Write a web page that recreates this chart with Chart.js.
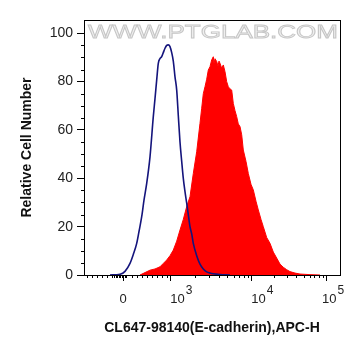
<!DOCTYPE html>
<html>
<head>
<meta charset="utf-8">
<script src="https://cdn.jsdelivr.net/npm/chart.js@4/dist/chart.umd.min.js"></script>
<style>
  html, body { margin: 0; padding: 0; background: #fff; }
</style>
</head>
<body>
<canvas id="histChart" width="361" height="356"></canvas>
<script>
// Isotype control (blue outline), channel units across the plot
const blueX = [26, 36, 41, 46, 49.3, 52.7, 55, 57.7, 60, 62.7, 66, 69.3, 71, 72.7, 74.3, 76, 77.7, 79.3, 81, 82.7, 84.3, 86, 87.7, 89.3, 91, 92.7, 94.3, 96, 97.7, 99.3, 101, 102.7, 104.3, 106, 107.7, 109.3, 112.7, 116, 119.3, 122.7, 126, 129.3, 136, 146];
const blueY = [0, 0.3, 1.5, 4.8, 8.5, 13.1, 18, 24.1, 31, 37.9, 48.9, 65.5, 73, 80.7, 87.6, 89.5, 90.3, 92, 93.8, 95, 95.2, 94.5, 92, 88.5, 82, 76.5, 66, 55, 47, 40, 34.5, 29.7, 25, 20, 17, 13.1, 8, 4.5, 2.5, 1.3, 0.8, 0.5, 0.2, 0];

// E-cadherin stained (red filled)
const redX = [56, 61, 66, 71, 76, 79.3, 82.7, 86, 89.3, 92.7, 96, 99.3, 102.7, 106, 109.3, 112.7, 116, 117.7, 119.3, 121, 122.7, 124.3, 126, 127.7, 129.3, 130, 131, 132.7, 134, 135, 136, 137.7, 139.3, 141, 142.7, 144.3, 146, 147.7, 149.3, 151, 152.7, 154.3, 156, 157.7, 159.3, 162, 164.3, 167, 169.3, 172, 174.3, 177, 179.3, 182.7, 186, 189.3, 192.7, 196, 199.3, 202.7, 206, 211, 216, 226, 236];
const redY = [0, 1, 2, 2.5, 3.4, 4.8, 6.2, 8, 10.3, 14, 18.6, 23, 28.3, 32.4, 42, 51, 62.8, 69, 75, 77.9, 81, 84.8, 86.2, 89, 90.3, 87.5, 89.5, 88.3, 86.5, 88.5, 87.6, 85.5, 86.9, 84.1, 80, 77.9, 77, 76.5, 71, 68, 65.5, 62.5, 61.4, 58, 51.7, 47, 42, 37.5, 35.2, 30.5, 26.9, 23, 20, 15.5, 13.1, 9.5, 7, 4.5, 3.2, 2.2, 1.4, 0.8, 0.4, 0.15, 0];

// axis ticks
const xTickPos = [39, 86.7, 167.7, 242];
const xTickBase = ["0", "10", "10", "10"];
const xTickExp = ["", "3", "4", "5"];
const yTicks = [0, 20, 40, 60, 80, 100];

const FONT = '"Liberation Sans", Arial, sans-serif';

function toPoints(xs, ys) {
  return xs.map((x, i) => ({ x: x, y: ys[i] }));
}

// minor tick positions on the x axis (biexponential look)
function minorXTicks() {
  const out = [];
  for (let i = 0; i < 6; i++) out.push(2.7 + 5 * i);
  for (let v = 30; v <= 43; v += 1.5) out.push(v);
  for (let i = 0; i < 8; i++) out.push(47.7 + 5 * i);
  for (let d = 1; d < xTickPos.length - 1; d++) {
    const a = xTickPos[d], b = xTickPos[d + 1];
    for (let k = 2; k <= 9; k++) out.push(a + Math.log10(k) * (b - a));
  }
  return out;
}

const framePlugin = {
  id: "frame",
  afterDraw(chart) {
    const { ctx, chartArea: a, scales } = chart;
    ctx.save();
    ctx.strokeStyle = "#000";
    ctx.lineWidth = 1;
    ctx.strokeRect(a.left + 0.5, a.top + 0.5, a.right - a.left, a.bottom - a.top);

    // minor ticks
    ctx.beginPath();
    minorXTicks().forEach((v) => {
      const px = Math.round(scales.x.getPixelForValue(v)) + 0.5;
      ctx.moveTo(px, a.bottom);
      ctx.lineTo(px, a.bottom + 3);
    });
    for (let v = 5; v < 105; v += 5) {
      if (v % 20 === 0) continue;
      const py = Math.round(scales.y.getPixelForValue(v)) + 0.5;
      ctx.moveTo(a.left, py);
      ctx.lineTo(a.left - 3, py);
    }
    ctx.stroke();

    // x tick labels with superscripts
    ctx.fillStyle = "#222";
    ctx.textBaseline = "alphabetic";
    xTickPos.forEach((v, i) => {
      const px = scales.x.getPixelForValue(v);
      ctx.font = "13px " + FONT;
      if (!xTickExp[i]) {
        ctx.textAlign = "center";
        ctx.fillText(xTickBase[i], px, 303);
      } else {
        ctx.textAlign = "left";
        const x0 = i === 3 ? px - 4 : px - 0.5;
        ctx.fillText(xTickBase[i], x0, 303);
        const w = ctx.measureText(xTickBase[i]).width;
        ctx.font = "12px " + FONT;
        ctx.fillText(xTickExp[i], x0 + w + 1, 294);
      }
    });
    ctx.restore();
  },
};

const watermarkPlugin = {
  id: "watermark",
  beforeDatasetsDraw(chart) {
    const { ctx } = chart;
    const text = "WWW.PTGLAB.COM";
    ctx.save();
    ctx.font = "18px " + FONT;
    const w = ctx.measureText(text).width;
    ctx.translate(88, 38);
    ctx.scale(250 / w, 1);
    ctx.fillStyle = "#f0f0f0";
    ctx.strokeStyle = "#c6c6c6";
    ctx.lineWidth = 0.8;
    ctx.textAlign = "left";
    ctx.fillText(text, 0, 0);
    ctx.strokeText(text, 0, 0);
    ctx.restore();
  },
};

const ctx = document.getElementById("histChart");
new Chart(ctx, {
  type: "line",
  data: {
    datasets: [
      {
        label: "Isotype control",
        data: toPoints(blueX, blueY),
        borderColor: "#14147c",
        borderWidth: 1.6,
        pointRadius: 0,
        fill: false,
        cubicInterpolationMode: "monotone",
      },
      {
        label: "E-cadherin",
        data: toPoints(redX, redY),
        borderColor: "#ff0000",
        backgroundColor: "#ff0000",
        borderWidth: 1,
        pointRadius: 0,
        fill: "origin",
        tension: 0,
      },
    ],
  },
  options: {
    responsive: false,
    animation: false,
    events: [],
    layout: { padding: { top: 20, right: 21, left: 0, bottom: 0 } },
    plugins: {
      legend: { display: false },
      tooltip: { enabled: false },
    },
    scales: {
      x: {
        type: "linear",
        min: 0,
        max: 256,
        afterBuildTicks: (s) => {
          s.ticks = xTickPos.map((v) => ({ value: v }));
        },
        afterFit: (s) => {
          s.height = 81;
        },
        grid: { drawOnChartArea: false, tickLength: 6, color: "#000" },
        border: { color: "#000" },
        ticks: { display: false },
        title: {
          display: true,
          text: "CL647-98140(E-cadherin),APC-H",
          color: "#111",
          font: { family: FONT, size: 14, weight: "bold" },
          padding: { top: 0, bottom: 19.6 },
        },
      },
      y: {
        min: 0,
        max: 105.5,
        afterBuildTicks: (s) => {
          s.ticks = yTicks.map((v) => ({ value: v }));
        },
        afterFit: (s) => {
          s.width = 84;
        },
        grid: { drawOnChartArea: false, tickLength: 7, color: "#000" },
        border: { color: "#000" },
        ticks: {
          color: "#222",
          padding: 4,
          font: { family: FONT, size: 14 },
        },
        title: {
          display: true,
          text: "Relative Cell Number",
          color: "#111",
          font: { family: FONT, size: 14, weight: "bold" },
          padding: { top: 19, bottom: 0 },
        },
      },
    },
  },
  plugins: [watermarkPlugin, framePlugin],
});
</script>
</body>
</html>
